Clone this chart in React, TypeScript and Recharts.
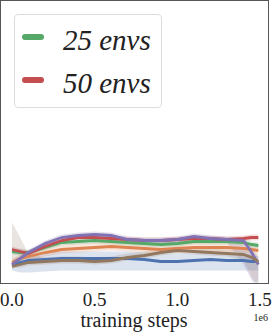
import React from "react";
import { ComposedChart, Line, Area, XAxis, YAxis } from "recharts";

// training steps (x1e6)
const steps = [0, 0.05, 0.1, 0.2, 0.3, 0.4, 0.5, 0.6, 0.7, 0.8, 0.9, 1.0, 1.1, 1.2, 1.3, 1.4, 1.45, 1.49];
const xTicks = [0, 0.5, 1.0, 1.5];

// mean return per run (arbitrary units, no y ticks in the source)
const blue = [17, 20, 22, 23, 24, 24, 24, 24, 24, 23, 21, 21, 22, 23, 22, 22, 21, 21];
const orange = [20, 24, 26, 30, 33, 34, 35, 36, 35, 34, 33, 34, 35, 35, 35, 34, 33, 32];
const green = [31, 30, 30, 35, 40, 41, 42, 41, 40, 39, 38, 39, 41, 41, 41, 40, 38, 37];
const red = [33, 31, 29, 36, 42, 45, 45, 44, 43, 42, 42, 43, 44, 44, 43, 44, 45, 45];
const purple = [18, 24, 30, 39, 45, 47, 48, 47, 43, 42, 42, 43, 46, 44, 43, 42, 30, 18];
const brown = [16, 18, 20, 21, 22, 22, 21, 22, 25, 27, 30, 32, 31, 30, 29, 28, 25, 21];

// confidence bands (low / high)
const blueLo = [12, 10, 10, 11, 12, 12, 12, 12, 12, 12, 12, 12, 12, 12, 12, 12, 12, 12];
const blueHi = [22, 26, 28, 30, 31, 31, 31, 31, 31, 30, 29, 29, 29, 30, 29, 29, 28, 26];
const orangeLo = [16, 20, 22, 26, 29, 30, 31, 32, 31, 30, 29, 30, 31, 31, 31, 30, 29, 28];
const orangeHi = [24, 28, 31, 35, 38, 39, 40, 41, 40, 39, 38, 39, 40, 40, 40, 39, 38, 36];
const greenLo = [28, 27, 27, 32, 37, 38, 39, 38, 37, 36, 35, 36, 38, 38, 38, 37, 35, 34];
const greenHi = [34, 33, 33, 38, 43, 44, 45, 44, 43, 42, 41, 42, 44, 44, 44, 43, 41, 40];
const redLo = [30, 28, 26, 33, 39, 42, 42, 41, 40, 39, 39, 40, 41, 41, 40, 41, 42, 42];
const redHi = [36, 34, 32, 39, 45, 48, 48, 47, 46, 45, 45, 46, 47, 47, 46, 47, 48, 48];
const purpleLo = [15, 21, 27, 36, 42, 44, 45, 44, 40, 39, 39, 40, 43, 41, 40, 18, 2, -6];
const purpleHi = [21, 27, 33, 42, 48, 50, 51, 50, 46, 45, 45, 46, 49, 47, 46, 45, 36, 24];
const brownLo = [14, 15, 17, 18, 19, 19, 18, 19, 22, 24, 27, 29, 28, 27, 26, 22, 5, -6];
const brownHi = [60, 45, 28, 25, 26, 26, 25, 26, 29, 31, 34, 36, 35, 34, 33, 32, 30, 28];

const legendItems = [
  { name: "25 envs", color: "#55a868" },
  { name: "50 envs", color: "#c44e52" },
];

const data = steps.map((t, i) => ({
  t,
  blue: blue[i], orange: orange[i], green: green[i], red: red[i], purple: purple[i], brown: brown[i],
  blueBand: [blueLo[i], blueHi[i]],
  orangeBand: [orangeLo[i], orangeHi[i]],
  greenBand: [greenLo[i], greenHi[i]],
  redBand: [redLo[i], redHi[i]],
  purpleBand: [purpleLo[i], purpleHi[i]],
  brownBand: [brownLo[i], brownHi[i]],
}));

const series = [
  { key: "blue", color: "#4c72b0" },
  { key: "orange", color: "#dd8452" },
  { key: "green", color: "#55a868" },
  { key: "red", color: "#c44e52" },
  { key: "purple", color: "#8172b3" },
  { key: "brown", color: "#937860" },
];

const SPINE = "#555";
const FONT = "'Liberation Serif', serif";

const AxisLabel = ({ viewBox }: any) => {
  const { x, y, width } = viewBox;
  return (
    <g>
      <text x={x + width / 2 - 0.5} y={y + 44} textAnchor="middle" fontSize={20} fill="#222" fontFamily={FONT}>
        training steps
      </text>
      <text x={x + width} y={y + 38.5} textAnchor="end" fontSize={10} fill="#222" fontFamily={FONT}>
        1e6
      </text>
    </g>
  );
};

export default function App() {
  return (
    <div style={{ position: "absolute", left: 0, top: 0, width: 272, height: 335, background: "#fff" }}>
      <ComposedChart width={272} height={335} data={data} margin={{ top: 1, right: 4, left: 1, bottom: 0 }}>
        <XAxis
          dataKey="t"
          type="number"
          domain={[-0.0665, 1.5485]}
          ticks={xTicks}
          tickFormatter={(v) => v.toFixed(1)}
          height={52.5}
          tickSize={0}
          tickMargin={10}
          tickLine={false}
          axisLine={false}
          tick={{ fill: "#222", fontSize: 19, fontFamily: FONT }}
          label={<AxisLabel />}
          allowDataOverflow
        />
        <YAxis type="number" domain={[0, 281.5]} width={0} tick={false} tickLine={false} axisLine={false} allowDataOverflow />
        {series.map((s) => (
          <Area
            key={s.key + "Band"}
            type="linear"
            dataKey={s.key + "Band"}
            stroke="none"
            fill={s.color}
            fillOpacity={0.2}
            isAnimationActive={false}
          />
        ))}
        {series.map((s) => (
          <Line
            key={s.key}
            type="linear"
            dataKey={s.key}
            stroke={s.color}
            strokeWidth={2.8}
            dot={false}
            isAnimationActive={false}
          />
        ))}
      </ComposedChart>
      {/* axes frame */}
      <div
        style={{
          position: "absolute",
          left: 0,
          top: 0,
          width: 269,
          height: 283.5,
          border: `1.6px solid ${SPINE}`,
          boxSizing: "border-box",
          pointerEvents: "none",
        }}
      />
      <div
        style={{
          position: "absolute",
          left: 14,
          top: 14,
          width: 148,
          height: 94,
          border: "1px solid #ddd",
          borderRadius: 4,
          background: "#fff",
          boxSizing: "border-box",
        }}
      >
        {legendItems.map((it, i) => (
          <div key={it.name} style={{ position: "absolute", left: 7, top: 6 + i * 43, height: 32, display: "flex", alignItems: "center" }}>
            <span style={{ display: "inline-block", width: 22, height: 6.5, borderRadius: 4, background: it.color }} />
            <span style={{ marginLeft: 19, fontFamily: FONT, fontStyle: "italic", fontSize: 29, color: "#222", lineHeight: "32px", position: "relative", top: 3 }}>
              {it.name}
            </span>
          </div>
        ))}
      </div>
    </div>
  );
}
